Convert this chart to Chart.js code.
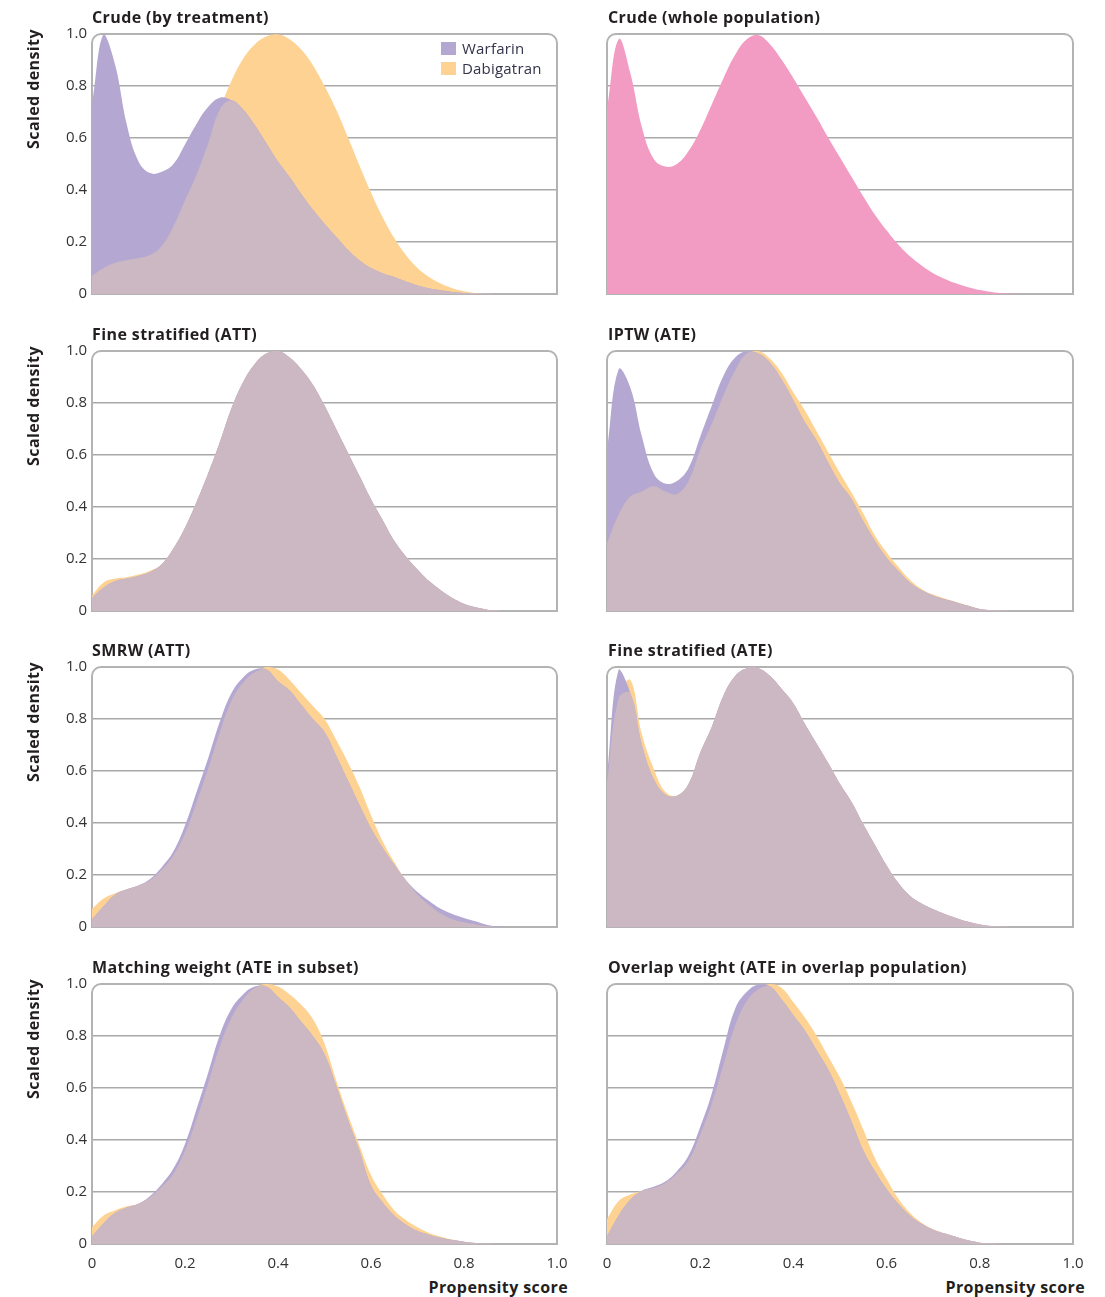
<!DOCTYPE html>
<html>
<head>
<meta charset="utf-8">
<title>Propensity score distributions</title>
<script src="https://cdn.jsdelivr.net/npm/chart.js@4.4.1/dist/chart.umd.min.js"></script>
<style>
  body { margin: 0; background: #fff; font-family: "Open Sans", sans-serif; }
  #page { position: relative; width: 1105px; height: 1297px; overflow: hidden; }
  canvas { position: absolute; }
  .title, .xlabel, .ylabel { position: absolute; font-weight: 700; font-size: 16px; line-height: 20px; color: #231f20; white-space: nowrap; letter-spacing: 0.4px; }
  .xlabel { text-align: right; }
  .ylabel { width: 200px; text-align: center; transform: rotate(-90deg); }
  .legend { position: absolute; font-size: 15px; line-height: 20px; color: #33334a; white-space: nowrap; letter-spacing: 0.2px; }
  .legend span { display: inline-block; width: 15px; height: 13px; margin-right: 6px; vertical-align: -1px; }
</style>
</head>
<body>
<div id="page"></div>
<script>
// propensity score grid (x) shared by every density curve
const propensity = [
  0, 0.025, 0.05, 0.075, 0.1, 0.125, 0.15, 0.175, 0.2, 0.225,
  0.25, 0.275, 0.3, 0.325, 0.35, 0.375, 0.4, 0.425, 0.45, 0.475,
  0.5, 0.525, 0.55, 0.575, 0.6, 0.625, 0.65, 0.675, 0.7, 0.725,
  0.75, 0.775, 0.8, 0.825, 0.85, 0.875, 0.9, 0.925, 0.95, 0.975,
  1
];
const xTickLabels = ["0", "0.2", "0.4", "0.6", "0.8", "1.0"];
const yTickLabels = ["0", "0.2", "0.4", "0.6", "0.8", "1.0"];
const seriesNames = ["Warfarin", "Dabigatran"];

// Crude (by treatment)
const crudeWarfarin = [
  0.73, 1.00, 0.88, 0.65, 0.51, 0.465, 0.47, 0.50, 0.575, 0.655,
  0.72, 0.755, 0.745, 0.71, 0.65, 0.58, 0.51, 0.45, 0.385, 0.325,
  0.27, 0.22, 0.17, 0.13, 0.10, 0.08, 0.065, 0.048, 0.033, 0.022,
  0.014, 0.008, 0.004, 0.002, 0.001, 0, 0, 0, 0, 0,
  0
];
const crudeDabigatran = [
  0.07, 0.10, 0.12, 0.13, 0.138, 0.15, 0.185, 0.26, 0.36, 0.46,
  0.58, 0.71, 0.82, 0.905, 0.96, 0.99, 0.998, 0.98, 0.94, 0.88,
  0.80, 0.71, 0.605, 0.495, 0.39, 0.295, 0.215, 0.15, 0.10, 0.065,
  0.04, 0.022, 0.011, 0.004, 0.001, 0, 0, 0, 0, 0,
  0
];
// Crude (whole population)
const wholePopulation = [
  0.71, 0.98, 0.85, 0.64, 0.52, 0.49, 0.50, 0.55, 0.63, 0.73,
  0.83, 0.92, 0.98, 0.995, 0.96, 0.90, 0.83, 0.755, 0.68, 0.60,
  0.525, 0.45, 0.375, 0.305, 0.245, 0.19, 0.145, 0.11, 0.08, 0.058,
  0.04, 0.026, 0.015, 0.008, 0.003, 0.001, 0, 0, 0, 0,
  0
];
// Fine stratified (ATT)
const fineAttWarfarin = [
  0.05, 0.09, 0.115, 0.125, 0.135, 0.15, 0.18, 0.24, 0.32, 0.42,
  0.53, 0.65, 0.78, 0.88, 0.95, 0.99, 1.0, 0.975, 0.93, 0.87,
  0.79, 0.70, 0.61, 0.52, 0.43, 0.35, 0.27, 0.21, 0.16, 0.115,
  0.08, 0.05, 0.028, 0.014, 0.005, 0.001, 0, 0, 0, 0,
  0
];
const fineAttDabigatran = [
  0.06, 0.11, 0.125, 0.13, 0.14, 0.155, 0.18, 0.24, 0.32, 0.42,
  0.53, 0.65, 0.78, 0.88, 0.95, 0.99, 1.0, 0.975, 0.93, 0.87,
  0.79, 0.70, 0.61, 0.52, 0.43, 0.35, 0.27, 0.21, 0.16, 0.115,
  0.08, 0.05, 0.028, 0.014, 0.005, 0.001, 0, 0, 0, 0,
  0
];
// IPTW (ATE)
const iptwWarfarin = [
  0.62, 0.93, 0.86, 0.67, 0.53, 0.49, 0.50, 0.55, 0.67, 0.79,
  0.905, 0.975, 1.0, 0.99, 0.955, 0.89, 0.81, 0.725, 0.655, 0.57,
  0.49, 0.43, 0.345, 0.27, 0.205, 0.155, 0.11, 0.08, 0.06, 0.045,
  0.033, 0.02, 0.008, 0.003, 0.001, 0, 0, 0, 0, 0,
  0
];
const iptwDabigatran = [
  0.26, 0.37, 0.44, 0.46, 0.48, 0.46, 0.45, 0.50, 0.62, 0.72,
  0.83, 0.925, 0.99, 1.0, 0.97, 0.915, 0.84, 0.77, 0.69, 0.61,
  0.53, 0.455, 0.375, 0.29, 0.225, 0.17, 0.12, 0.085, 0.063, 0.048,
  0.035, 0.021, 0.008, 0.003, 0.001, 0, 0, 0, 0, 0,
  0
];
// SMRW (ATT)
const smrwWarfarin = [
  0.03, 0.08, 0.125, 0.145, 0.16, 0.185, 0.23, 0.29, 0.39, 0.52,
  0.65, 0.79, 0.90, 0.96, 0.99, 0.99, 0.945, 0.91, 0.855, 0.80,
  0.75, 0.66, 0.565, 0.47, 0.38, 0.305, 0.24, 0.18, 0.135, 0.10,
  0.07, 0.05, 0.035, 0.022, 0.008, 0.002, 0, 0, 0, 0,
  0
];
const smrwDabigatran = [
  0.07, 0.11, 0.13, 0.145, 0.16, 0.18, 0.22, 0.275, 0.36, 0.48,
  0.61, 0.75, 0.87, 0.94, 0.98, 1.0, 0.99, 0.95, 0.90, 0.85,
  0.80, 0.72, 0.635, 0.54, 0.43, 0.33, 0.25, 0.18, 0.125, 0.085,
  0.052, 0.03, 0.018, 0.01, 0.003, 0, 0, 0, 0, 0,
  0
];
// Fine stratified (ATE)
const fineAteWarfarin = [
  0.58, 0.99, 0.90, 0.70, 0.57, 0.51, 0.505, 0.55, 0.67, 0.77,
  0.89, 0.965, 0.995, 0.995, 0.965, 0.915, 0.86, 0.78, 0.705, 0.63,
  0.55, 0.48, 0.395, 0.315, 0.237, 0.17, 0.12, 0.09, 0.068, 0.05,
  0.034, 0.02, 0.01, 0.004, 0.001, 0, 0, 0, 0, 0,
  0
];
const fineAteDabigatran = [
  0.55, 0.88, 0.95, 0.74, 0.61, 0.52, 0.505, 0.55, 0.67, 0.77,
  0.89, 0.965, 0.995, 0.995, 0.965, 0.915, 0.86, 0.78, 0.705, 0.63,
  0.55, 0.48, 0.395, 0.315, 0.237, 0.17, 0.12, 0.09, 0.068, 0.05,
  0.034, 0.02, 0.01, 0.004, 0.001, 0, 0, 0, 0, 0,
  0
];
// Matching weight (ATE in subset)
const matchWarfarin = [
  0.03, 0.08, 0.12, 0.14, 0.155, 0.185, 0.23, 0.29, 0.385, 0.52,
  0.66, 0.805, 0.905, 0.96, 0.99, 0.99, 0.95, 0.91, 0.855, 0.80,
  0.73, 0.61, 0.48, 0.36, 0.225, 0.16, 0.11, 0.075, 0.05, 0.036,
  0.024, 0.015, 0.009, 0.004, 0.001, 0, 0, 0, 0, 0,
  0
];
const matchDabigatran = [
  0.065, 0.11, 0.13, 0.145, 0.155, 0.18, 0.22, 0.27, 0.36, 0.48,
  0.62, 0.76, 0.87, 0.94, 0.985, 1.0, 0.99, 0.96, 0.92, 0.865,
  0.77, 0.63, 0.50, 0.38, 0.265, 0.19, 0.13, 0.092, 0.064, 0.042,
  0.028, 0.017, 0.009, 0.004, 0.001, 0, 0, 0, 0, 0,
  0
];
// Overlap weight (ATE in overlap population)
const overlapWarfarin = [
  0.03, 0.11, 0.17, 0.205, 0.22, 0.24, 0.28, 0.34, 0.45, 0.58,
  0.75, 0.905, 0.97, 0.998, 0.99, 0.94, 0.88, 0.82, 0.745, 0.67,
  0.575, 0.47, 0.36, 0.28, 0.212, 0.155, 0.11, 0.078, 0.055, 0.04,
  0.027, 0.014, 0.005, 0.002, 0, 0, 0, 0, 0, 0,
  0
];
const overlapDabigatran = [
  0.095, 0.165, 0.19, 0.205, 0.215, 0.235, 0.27, 0.32, 0.42, 0.54,
  0.69, 0.84, 0.935, 0.98, 1.0, 0.985, 0.93, 0.87, 0.80, 0.72,
  0.64, 0.545, 0.44, 0.33, 0.25, 0.175, 0.12, 0.082, 0.057, 0.041,
  0.027, 0.014, 0.005, 0.002, 0, 0, 0, 0, 0, 0,
  0
];

const PURPLE = "#b4a8d2";
const ORANGE = "#fed292";
const MIX = "#cbb8c2";
const PINK = "#f29bc3";
const GRID = "#a9a9a9";
const FRAME = "#b3b3b3";
const FONT = "'Open Sans', sans-serif";

const panels = [
  { title: "Crude (by treatment)", w: crudeWarfarin, d: crudeDabigatran, legend: true },
  { title: "Crude (whole population)", single: wholePopulation },
  { title: "Fine stratified (ATT)", w: fineAttWarfarin, d: fineAttDabigatran },
  { title: "IPTW (ATE)", w: iptwWarfarin, d: iptwDabigatran },
  { title: "SMRW (ATT)", w: smrwWarfarin, d: smrwDabigatran },
  { title: "Fine stratified (ATE)", w: fineAteWarfarin, d: fineAteDabigatran },
  { title: "Matching weight (ATE in subset)", w: matchWarfarin, d: matchDabigatran },
  { title: "Overlap weight (ATE in overlap population)", w: overlapWarfarin, d: overlapDabigatran }
];

const plotTops = [34, 351, 667, 984];
const plotH = 260;

// rounded frame round the plot area, under the fills
const framePlugin = {
  id: "frame",
  beforeDatasetsDraw(chart) {
    const { ctx, chartArea: a } = chart;
    const r = 9;
    ctx.save();
    ctx.strokeStyle = FRAME;
    ctx.lineWidth = 2;
    ctx.beginPath();
    ctx.moveTo(a.left, a.bottom);
    ctx.lineTo(a.left, a.top + r);
    ctx.arcTo(a.left, a.top, a.left + r, a.top, r);
    ctx.lineTo(a.right - r, a.top);
    ctx.arcTo(a.right, a.top, a.right, a.top + r, r);
    ctx.lineTo(a.right, a.bottom);
    ctx.closePath();
    ctx.stroke();
    ctx.restore();
  }
};

const pts = arr => propensity.map((x, i) => ({ x: x, y: arr[i] }));

function area(label, values, color, order) {
  return {
    label: label,
    data: pts(values),
    backgroundColor: color,
    borderColor: "rgba(0,0,0,0)",
    borderWidth: 0,
    pointRadius: 0,
    fill: "origin",
    tension: 0.4,
    order: order
  };
}

const page = document.getElementById("page");

function addText(cls, text, css) {
  const el = document.createElement("div");
  el.className = cls;
  el.textContent = text;
  Object.assign(el.style, css);
  page.appendChild(el);
  return el;
}

panels.forEach((p, idx) => {
  const col = idx % 2, row = Math.floor(idx / 2);
  const bottomRow = row === 3;
  const plotTop = plotTops[row];
  const left = col === 0 ? 0 : 597;
  const width = col === 0 ? 572 : 493;
  const padTop = 20;
  const xAxisH = bottomRow ? 30 : 20;
  const height = padTop + plotH + xAxisH;

  const cv = document.createElement("canvas");
  cv.width = width; cv.height = height;
  cv.style.left = left + "px"; cv.style.top = (plotTop - padTop) + "px";
  cv.style.width = width + "px"; cv.style.height = height + "px";
  page.appendChild(cv);

  addText("title", p.title, { left: (col === 0 ? 92 : 608) + "px", top: (plotTop - 27) + "px" });
  if (col === 0) {
    addText("ylabel", "Scaled density", { left: (33 - 100) + "px", top: (plotTop + 55 - 10) + "px" });
  }

  let datasets;
  if (p.single) {
    datasets = [area("Whole population", p.single, PINK, 0)];
  } else {
    const both = p.w.map((v, i) => Math.min(v, p.d[i]));
    datasets = [
      area("Both", both, MIX, 0),
      area(seriesNames[0], p.w, PURPLE, 1),
      area(seriesNames[1], p.d, ORANGE, 2)
    ];
  }

  new Chart(cv, {
    type: "line",
    data: { datasets: datasets },
    options: {
      responsive: false,
      animation: false,
      devicePixelRatio: 1,
      events: [],
      layout: { padding: { top: padTop, bottom: 0, left: col === 0 ? 0 : 10, right: col === 0 ? 15 : 17 } },
      plugins: { legend: { display: false }, tooltip: { enabled: false } },
      scales: {
        x: {
          type: "linear", min: 0, max: 1,
          grid: { display: false },
          border: { display: false },
          ticks: {
            display: bottomRow, stepSize: 0.2, autoSkip: false, maxRotation: 0, padding: 3,
            color: "#333", font: { family: FONT, size: 15 },
            callback: (v, i) => xTickLabels[i]
          },
          afterFit: s => { s.height = xAxisH; }
        },
        y: {
          min: 0, max: 1,
          grid: {
            drawTicks: false, lineWidth: 1.5,
            color: c => (c.tick && c.tick.value > 0.01 && c.tick.value < 0.99) ? GRID : "rgba(0,0,0,0)"
          },
          border: { display: false },
          ticks: {
            display: col === 0, stepSize: 0.2, padding: 5,
            color: "#333", font: { family: FONT, size: 15 },
            callback: (v, i) => yTickLabels[i]
          },
          afterFit: s => { s.width = col === 0 ? 92 : 0; }
        }
      }
    },
    plugins: [framePlugin]
  });

  if (p.legend) {
    [PURPLE, ORANGE].forEach((c, k) => {
      const lg = document.createElement("div");
      lg.className = "legend";
      lg.style.left = "441px";
      lg.style.top = (38 + k * 20) + "px";
      lg.innerHTML = '<span style="background:' + c + '"></span>' + seriesNames[k];
      page.appendChild(lg);
    });
  }
});

// x axis captions under the bottom row
[568, 1085].forEach(r => {
  addText("xlabel", "Propensity score", { left: (r - 300) + "px", width: "300px", top: "1277px" });
});
</script>
</body>
</html>
